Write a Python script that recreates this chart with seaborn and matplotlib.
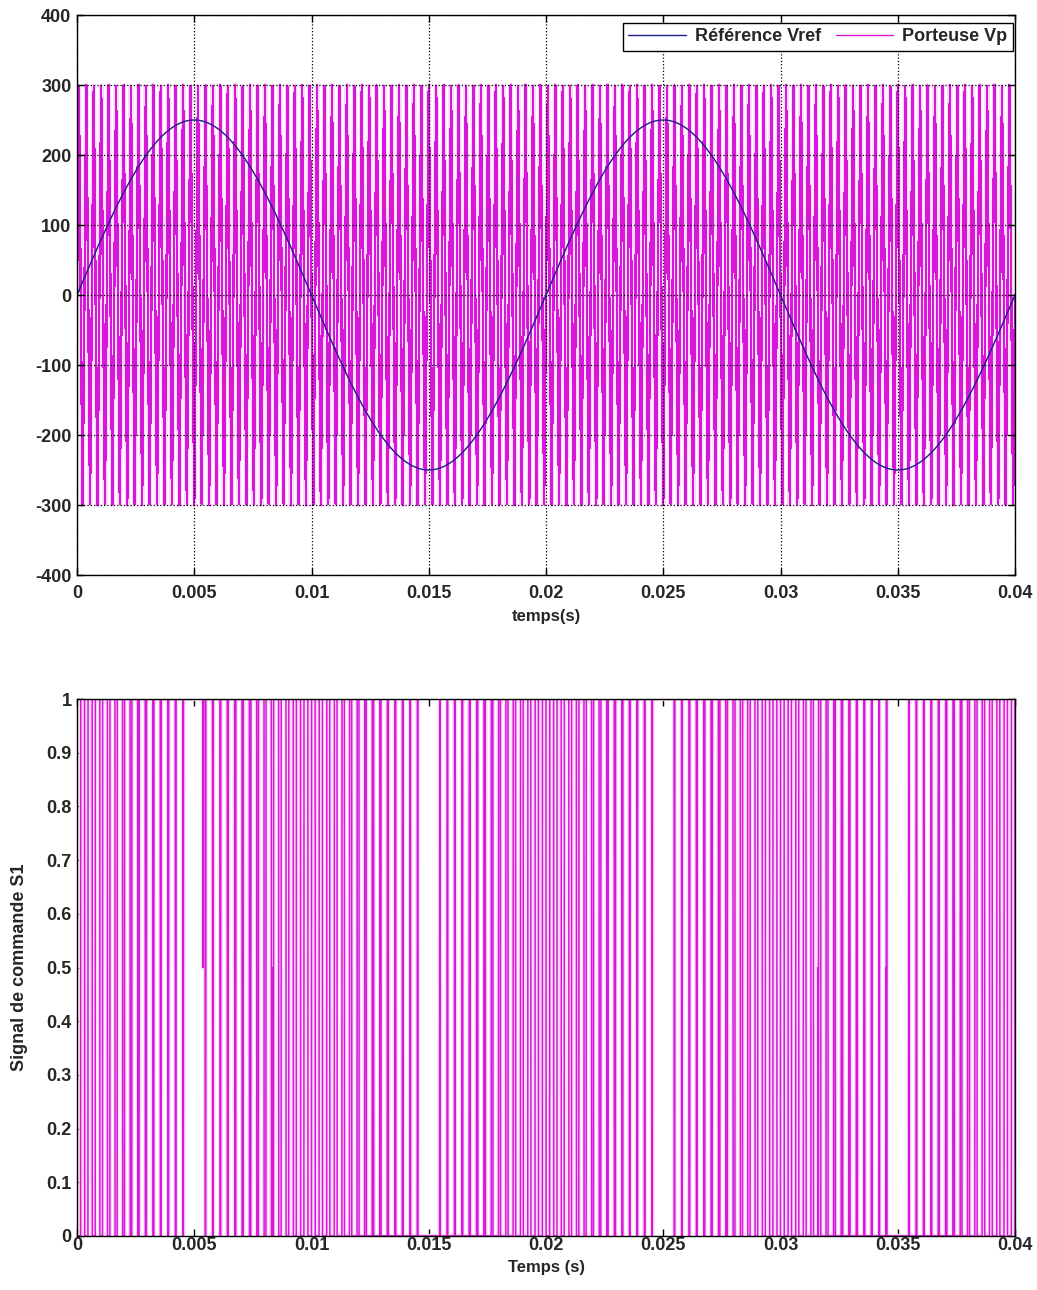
import numpy as np
import pandas as pd
import matplotlib
matplotlib.use("Agg")
import matplotlib.pyplot as plt
import seaborn as sns

# values
t_end = 0.04
ref_amp = 250.0          # Vref peak
ref_freq = 50.0          # Hz, two periods in 0.04 s
carrier_amp = 300.0      # Vp peak
carrier_freq = 3150.0    # Hz, spike spacing ~7.5 px
# repeating sequence of the carrier (phase -> normalised value)
carrier_phase = [0.0, 0.25, 0.75, 1.0]
carrier_shape = [0.0, 1.0, -1.0, 0.0]
min_pulse = 2.8e-5       # narrower pulses are dropped (gaps near the peaks)
half_times = [0.00537, 0.00831, 0.0316, 0.0345]   # spots where S1 sits at 0.5

x_ticks = [0, 0.005, 0.01, 0.015, 0.02, 0.025, 0.03, 0.035, 0.04]
x_tick_labels = ["0", "0.005", "0.01", "0.015", "0.02", "0.025", "0.03", "0.035", "0.04"]
y1_ticks = [-400, -300, -200, -100, 0, 100, 200, 300, 400]
y2_ticks = [0, 0.1, 0.2, 0.3, 0.4, 0.5, 0.6, 0.7, 0.8, 0.9, 1]
y2_tick_labels = ["0", "0.1", "0.2", "0.3", "0.4", "0.5", "0.6", "0.7", "0.8", "0.9", "1"]

dt = 1e-6
t = np.arange(0, t_end + dt / 2, dt)
vref = ref_amp * np.sin(2 * np.pi * ref_freq * t)
vp = carrier_amp * np.interp((carrier_freq * t) % 1.0, carrier_phase, carrier_shape)

# command signal, short pulses removed
s1 = (vref > vp).astype(float)
edges = np.flatnonzero(np.diff(s1)) + 1
bounds = np.concatenate([[0], edges, [len(s1)]])
for a, b in zip(bounds[:-1], bounds[1:]):
    if a > 0 and b < len(s1) and (b - a) * dt < min_pulse:
        s1[a:b] = s1[a - 1]
for th in half_times:
    i = int(round(th / dt))
    s1[i:i + 3] = 0.5

df = pd.DataFrame({"t": t, "vref": vref, "vp": vp, "s1": s1})

sns.set_style("ticks")
plt.rcParams["font.family"] = ["Liberation Sans", "DejaVu Sans"]
plt.rcParams["font.weight"] = "bold"
plt.rcParams["axes.labelweight"] = "bold"
plt.rcParams["xtick.direction"] = "in"
plt.rcParams["ytick.direction"] = "in"
plt.rcParams["xtick.top"] = True
plt.rcParams["ytick.right"] = True

fig = plt.figure(figsize=(10.37, 12.9), dpi=100)
ax1 = fig.add_axes([77 / 1037, 1 - 575 / 1290, 938 / 1037, 560 / 1290])
ax2 = fig.add_axes([77 / 1037, 1 - 1236 / 1290, 938 / 1037, 537 / 1290])

mag = "#d818d8"
halo = "#fbdcfb"
# soft pink bleed around the dense carrier lines
sns.lineplot(data=df, x="t", y="vp", ax=ax1, color=halo, lw=3.5,
             estimator=None, zorder=1)
sns.lineplot(data=df, x="t", y="vp", ax=ax1, color=mag, lw=1.0,
             estimator=None, label="Porteuse Vp", zorder=2, antialiased=False)
sns.lineplot(data=df, x="t", y="vref", ax=ax1, color="#1c1c8c", lw=1.0,
             estimator=None, label="Référence Vref", zorder=3)

ax1.set_xlim(0, t_end)
ax1.set_ylim(-400, 400)
ax1.set_xticks(x_ticks)
ax1.set_xticklabels(x_tick_labels)
ax1.set_yticks(y1_ticks)
ax1.set_yticklabels([str(v) for v in y1_ticks])
ax1.grid(True, color="black", linestyle=":", linewidth=0.9, zorder=2.5)
ax1.set_axisbelow(False)
ax1.set_xlabel("temps(s)", fontsize=12, labelpad=5)
ax1.set_ylabel("")
ax1.tick_params(axis="x", pad=7)
h, l = ax1.get_legend_handles_labels()
leg = ax1.legend(h[::-1], l[::-1], ncol=2, loc="upper right",
                 bbox_to_anchor=(1 - 2 / 938, 1 - 8 / 560), borderaxespad=0,
                 fontsize=13, handlelength=3.2, handletextpad=0.5,
                 columnspacing=0.8, fancybox=False, framealpha=1,
                 edgecolor="black", borderpad=0.3)
leg.get_frame().set_linewidth(1.0)
leg.set_zorder(5)
for txt in leg.get_texts():
    txt.set_fontweight("bold")

sns.lineplot(data=df, x="t", y="s1", ax=ax2, color=halo, lw=3.0,
             estimator=None, zorder=1)
sns.lineplot(data=df, x="t", y="s1", ax=ax2, color=mag, lw=1.1,
             estimator=None, zorder=2)
ax2.set_xlim(0, t_end)
ax2.set_ylim(0, 1)
ax2.set_xticks(x_ticks)
ax2.set_xticklabels(x_tick_labels)
ax2.set_yticks(y2_ticks)
ax2.set_yticklabels(y2_tick_labels)
ax2.set_xlabel("Temps (s)", fontsize=12, labelpad=4)
ax2.set_ylabel("Signal de commande S1", fontsize=13)
ax2.yaxis.set_label_coords(-0.052, 0.5)
ax2.tick_params(axis="x", pad=1)

for ax in (ax1, ax2):
    for s in ax.spines.values():
        s.set_color("black")
        s.set_linewidth(1.0)
        s.set_zorder(4)
    ax.tick_params(labelsize=13, length=5, width=1, color="black")
    ax.tick_params(axis="y", pad=4)
    for lab in ax.get_xticklabels() + ax.get_yticklabels():
        lab.set_fontweight("bold")

fig.savefig("out.png", dpi=100, facecolor="white")
